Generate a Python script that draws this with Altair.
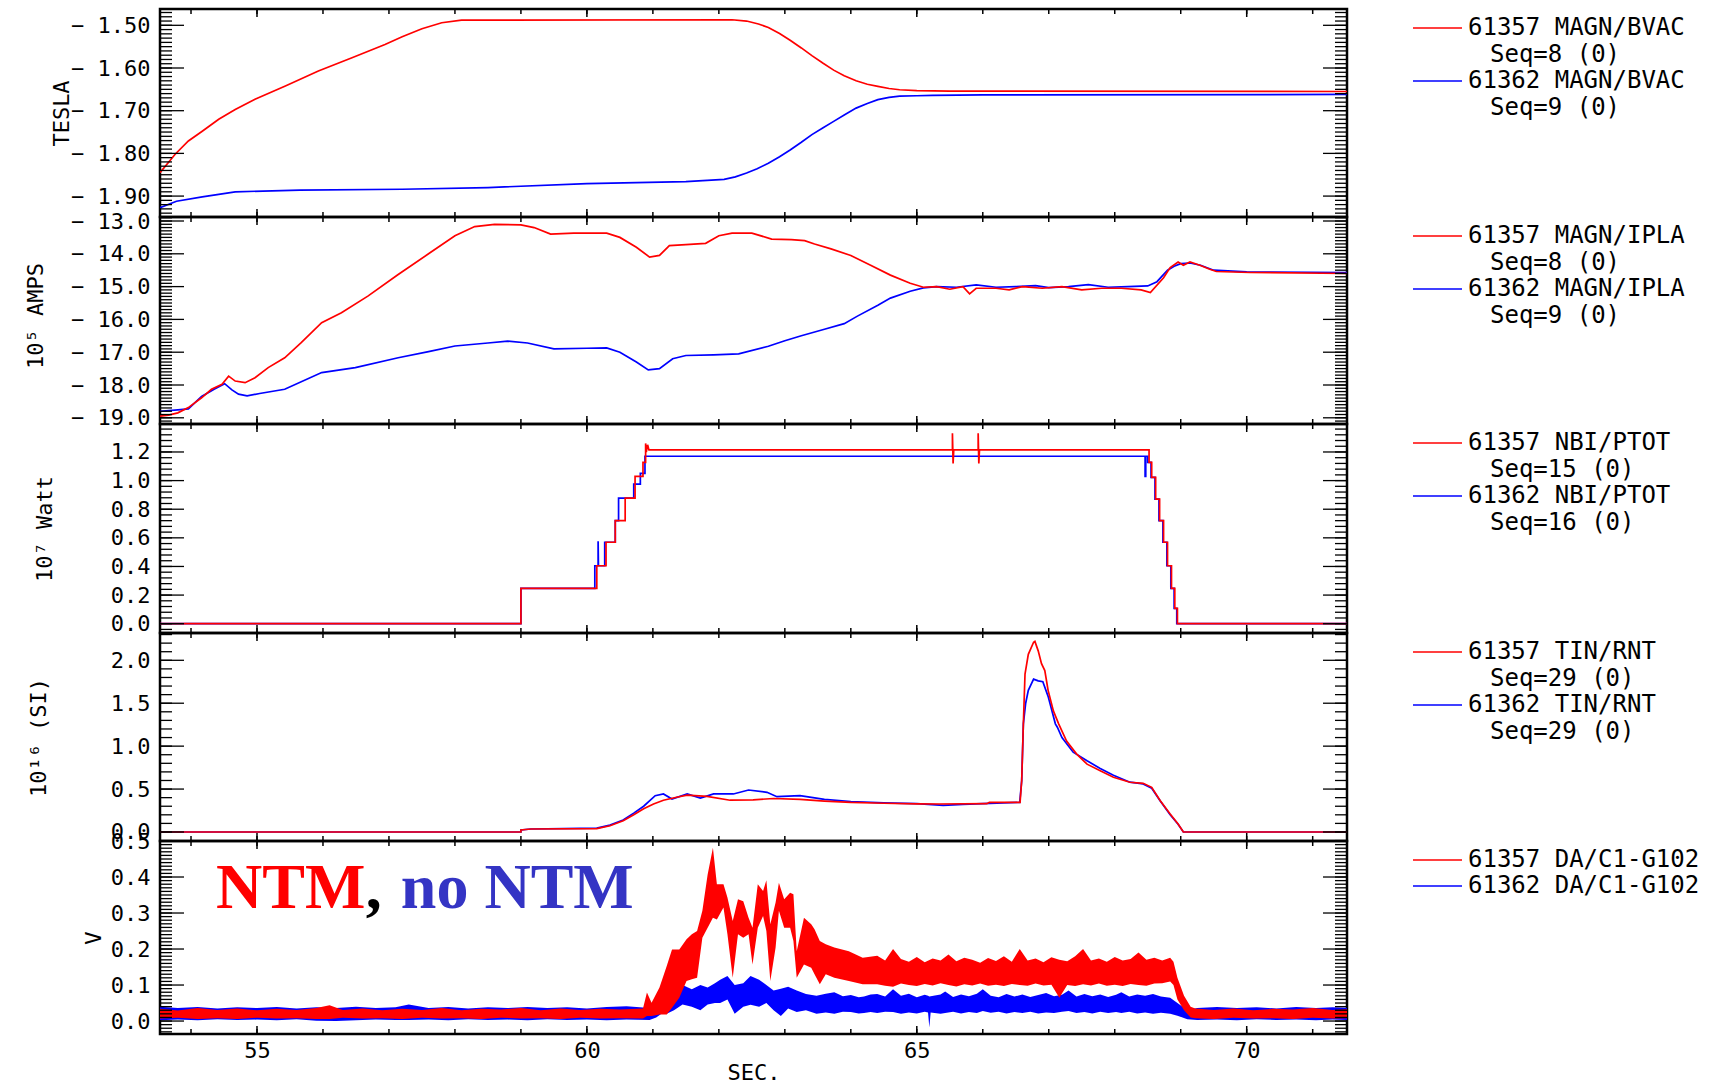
import math
import altair as alt
import pandas as pd

RED = "#ff0000"
BLUE = "#0000ff"
NAVY_TEXT = "#3434c4"
MONO = "DejaVu Sans Mono"

TIME_DOMAIN = [53.53, 71.52]
TIME_LABELS = [55, 60, 65, 70]
TIME_MINOR = list(range(54, 72))

# ---------------- MAGN/BVAC  (t [s], field [T]) ----------------
bvac_61357 = [(53.53, -1.845), (53.76, -1.802), (53.96, -1.771), (54.17, -1.748), (54.42, -1.720),
              (54.67, -1.697), (54.97, -1.673), (55.43, -1.642), (55.93, -1.607), (56.44, -1.576),
              (56.94, -1.545), (57.20, -1.527), (57.50, -1.508), (57.80, -1.494), (58.10, -1.488),
              (62.20, -1.487), (62.42, -1.490), (62.60, -1.497), (62.75, -1.505), (62.92, -1.519),
              (63.08, -1.535), (63.25, -1.553), (63.41, -1.571), (63.58, -1.589), (63.74, -1.605),
              (63.90, -1.618), (64.08, -1.630), (64.25, -1.638), (64.41, -1.643), (64.58, -1.648),
              (64.74, -1.651), (65.00, -1.653), (65.50, -1.654), (71.52, -1.655)]
bvac_61362 = [(53.53, -1.927), (53.78, -1.912), (54.17, -1.902), (54.42, -1.896), (54.67, -1.890),
              (55.65, -1.886), (57.20, -1.884), (58.50, -1.880), (60.00, -1.871), (61.50, -1.866),
              (62.08, -1.861), (62.25, -1.855), (62.42, -1.846), (62.58, -1.836), (62.75, -1.823),
              (62.92, -1.808), (63.08, -1.792), (63.25, -1.774), (63.41, -1.756), (63.58, -1.740),
              (63.74, -1.725), (63.90, -1.710), (64.08, -1.694), (64.25, -1.683), (64.41, -1.674),
              (64.58, -1.669), (64.74, -1.666), (65.00, -1.665), (65.24, -1.664), (66.00, -1.663),
              (71.52, -1.662)]

# ---------------- MAGN/IPLA  (t [s], current [1e5 A]) ----------------
ipla_61357 = [(53.53, -18.95), (53.66, -18.92), (53.80, -18.85), (53.96, -18.69), (54.16, -18.39),
              (54.31, -18.13), (54.47, -17.98), (54.57, -17.73), (54.67, -17.88), (54.82, -17.93),
              (54.97, -17.78), (55.17, -17.47), (55.42, -17.17), (55.67, -16.71), (55.98, -16.10),
              (56.28, -15.80), (56.68, -15.29), (57.14, -14.63), (57.60, -14.00), (58.00, -13.45),
              (58.30, -13.17), (58.60, -13.10), (59.00, -13.12), (59.20, -13.20), (59.45, -13.40),
              (59.80, -13.37), (60.30, -13.37), (60.50, -13.50), (60.75, -13.80), (60.95, -14.10),
              (61.10, -14.05), (61.25, -13.75), (61.50, -13.72), (61.80, -13.68), (62.00, -13.45),
              (62.20, -13.37), (62.50, -13.37), (62.80, -13.55), (63.10, -13.57), (63.30, -13.60),
              (63.45, -13.70), (63.70, -13.85), (64.00, -14.05), (64.30, -14.35), (64.60, -14.65),
              (64.90, -14.90), (65.10, -15.02), (65.30, -15.00), (65.50, -15.08), (65.70, -15.00),
              (65.80, -15.22), (65.90, -15.05), (66.20, -15.05), (66.40, -15.10), (66.60, -15.00),
              (66.90, -15.05), (67.20, -15.00), (67.50, -15.10), (67.80, -15.05), (68.10, -15.05),
              (68.40, -15.10), (68.54, -15.18), (68.74, -14.73), (68.84, -14.42), (68.96, -14.25),
              (69.04, -14.35), (69.14, -14.25), (69.29, -14.35), (69.44, -14.47), (69.54, -14.54),
              (70.05, -14.57), (71.52, -14.60)]
ipla_61362 = [(53.53, -18.80), (53.80, -18.76), (53.96, -18.73), (54.16, -18.35), (54.35, -18.13),
              (54.51, -17.96), (54.62, -18.15), (54.72, -18.28), (54.85, -18.33), (55.04, -18.26),
              (55.42, -18.13), (55.98, -17.62), (56.49, -17.47), (57.14, -17.17), (57.60, -16.98),
              (58.00, -16.81), (58.50, -16.72), (58.80, -16.66), (59.10, -16.72), (59.50, -16.90),
              (60.00, -16.88), (60.30, -16.87), (60.50, -17.00), (60.75, -17.30), (60.93, -17.54),
              (61.10, -17.50), (61.30, -17.20), (61.50, -17.10), (61.92, -17.08), (62.30, -17.05),
              (62.75, -16.82), (63.00, -16.65), (63.25, -16.50), (63.60, -16.30), (63.90, -16.13),
              (64.10, -15.90), (64.41, -15.57), (64.60, -15.35), (64.90, -15.14), (65.10, -15.04),
              (65.30, -15.00), (65.60, -15.02), (65.90, -14.95), (66.20, -15.02), (66.50, -15.00),
              (66.80, -14.97), (67.00, -15.03), (67.30, -15.00), (67.60, -14.94), (67.90, -15.02),
              (68.20, -15.00), (68.50, -14.98), (68.64, -14.85), (68.80, -14.50), (68.90, -14.38),
              (69.00, -14.30), (69.14, -14.28), (69.30, -14.35), (69.50, -14.50), (70.00, -14.55),
              (71.52, -14.57)]

# ---------------- NBI/PTOT  (t [s], power [1e7 W]) ----------------
ptot_61357 = [(53.53, 0.0), (59.00, 0.0), (59.00, 0.247), (60.15, 0.247), (60.15, 0.405), (60.29, 0.405),
              (60.29, 0.569), (60.43, 0.569), (60.43, 0.720), (60.58, 0.720), (60.58, 0.878), (60.73, 0.878),
              (60.73, 1.030), (60.85, 1.030), (60.85, 1.128), (60.89, 1.128), (60.89, 1.260), (60.90, 1.200),
              (60.92, 1.250), (60.94, 1.214), (65.54, 1.214), (65.54, 1.330), (65.55, 1.120), (65.56, 1.214),
              (65.93, 1.214), (65.93, 1.330), (65.94, 1.120), (65.95, 1.214), (68.52, 1.214), (68.52, 1.128),
              (68.56, 1.128), (68.56, 1.023), (68.62, 1.023), (68.62, 0.871), (68.68, 0.871), (68.68, 0.720),
              (68.74, 0.720), (68.74, 0.569), (68.80, 0.569), (68.80, 0.405), (68.86, 0.405), (68.86, 0.247),
              (68.91, 0.247), (68.91, 0.107), (68.95, 0.107), (68.95, 0.0), (71.52, 0.0)]
ptot_61362 = [(53.53, 0.0), (59.00, 0.0), (59.00, 0.247), (60.12, 0.247), (60.12, 0.405), (60.17, 0.405),
              (60.17, 0.576), (60.175, 0.405), (60.27, 0.405), (60.27, 0.569), (60.43, 0.569), (60.43, 0.720),
              (60.48, 0.720), (60.48, 0.878), (60.71, 0.878), (60.71, 0.976), (60.81, 0.976), (60.81, 1.050),
              (60.88, 1.050), (60.88, 1.170), (68.46, 1.170), (68.46, 1.030), (68.47, 1.030), (68.47, 1.170),
              (68.50, 1.170), (68.50, 1.128), (68.55, 1.128), (68.55, 1.023), (68.61, 1.023), (68.61, 0.871),
              (68.67, 0.871), (68.67, 0.720), (68.73, 0.720), (68.73, 0.569), (68.79, 0.569), (68.79, 0.405),
              (68.85, 0.405), (68.85, 0.247), (68.90, 0.247), (68.90, 0.107), (68.94, 0.107), (68.94, 0.0),
              (71.52, 0.0)]

# ---------------- TIN/RNT  (t [s], neutron rate [1e16 /s]) ----------------
rnt_61357 = [(53.53, 0.0), (59.00, 0.0), (59.00, 0.023), (59.15, 0.035), (60.15, 0.040), (60.35, 0.073),
             (60.55, 0.130), (60.71, 0.200), (60.86, 0.270), (61.01, 0.326), (61.16, 0.370), (61.36, 0.405),
             (61.52, 0.430), (61.82, 0.415), (62.17, 0.370), (62.52, 0.375), (62.83, 0.390), (63.23, 0.380),
             (63.60, 0.360), (64.00, 0.345), (64.50, 0.335), (65.00, 0.328), (65.35, 0.326), (66.06, 0.330),
             (66.10, 0.345), (66.565, 0.345), (66.59, 0.600), (66.615, 1.260), (66.64, 1.840), (66.69, 2.070),
             (66.77, 2.210), (66.79, 2.220), (66.84, 2.110), (66.89, 1.960), (66.94, 1.880), (66.99, 1.650),
             (67.07, 1.410), (67.15, 1.260), (67.27, 1.060), (67.42, 0.910), (67.58, 0.790), (67.78, 0.714),
             (67.98, 0.637), (68.23, 0.579), (68.43, 0.567), (68.56, 0.520), (68.69, 0.365), (68.84, 0.210),
             (68.96, 0.093), (69.04, 0.0), (71.52, 0.0)]
rnt_61362 = [(53.53, 0.0), (59.00, 0.0), (59.00, 0.023), (59.15, 0.035), (60.15, 0.045), (60.35, 0.080),
             (60.55, 0.140), (60.71, 0.220), (60.86, 0.300), (61.035, 0.423), (61.16, 0.443), (61.29, 0.384),
             (61.52, 0.443), (61.72, 0.396), (61.92, 0.443), (62.22, 0.443), (62.45, 0.489), (62.73, 0.462),
             (62.88, 0.411), (63.23, 0.423), (63.60, 0.380), (64.00, 0.355), (64.50, 0.340), (65.00, 0.330),
             (65.40, 0.310), (65.70, 0.322), (66.00, 0.330), (66.56, 0.345), (66.59, 0.600), (66.615, 1.260),
             (66.65, 1.500), (66.69, 1.650), (66.77, 1.780), (66.84, 1.760), (66.91, 1.750), (66.99, 1.580),
             (67.10, 1.260), (67.13, 1.220), (67.20, 1.100), (67.37, 0.930), (67.58, 0.830), (67.78, 0.740),
             (67.98, 0.660), (68.23, 0.580), (68.43, 0.560), (68.56, 0.510), (68.69, 0.360), (68.84, 0.200),
             (68.96, 0.090), (69.04, 0.0), (71.52, 0.0)]

# ---------------- DA/C1-G102  (t [s], low / high envelope of the signal [V]) ----------------
g102_61357 = [(53.53, 0.007, 0.034), (53.8, 0.009, 0.029), (54.1, 0.006, 0.036), (54.4, 0.008, 0.031),
              (54.7, 0.006, 0.035), (55.0, 0.009, 0.030), (55.3, 0.007, 0.034), (55.6, 0.008, 0.031),
              (55.9, 0.006, 0.036), (56.1, 0.006, 0.044), (56.3, 0.009, 0.031), (56.6, 0.007, 0.035),
              (56.9, 0.008, 0.030), (57.2, 0.006, 0.034), (57.5, 0.009, 0.031), (57.8, 0.007, 0.036),
              (58.1, 0.008, 0.030), (58.4, 0.006, 0.034), (58.7, 0.009, 0.032), (59.0, 0.007, 0.036),
              (59.3, 0.008, 0.030), (59.6, 0.006, 0.035), (59.9, 0.009, 0.031), (60.2, 0.007, 0.034),
              (60.5, 0.008, 0.032), (60.85, 0.007, 0.035),
              (60.91, 0.014, 0.079), (60.98, 0.014, 0.051), (61.10, 0.018, 0.093), (61.21, 0.018, 0.153),
              (61.29, 0.037, 0.199), (61.40, 0.065, 0.199), (61.51, 0.111, 0.227), (61.59, 0.116, 0.241),
              (61.67, 0.120, 0.250), (61.75, 0.231, 0.306), (61.83, 0.259, 0.407), (61.91, 0.287, 0.481),
              (61.97, 0.282, 0.380), (62.07, 0.315, 0.380), (62.13, 0.241, 0.343), (62.21, 0.120, 0.278),
              (62.29, 0.241, 0.338), (62.37, 0.231, 0.333), (62.45, 0.241, 0.287), (62.51, 0.157, 0.259),
              (62.59, 0.259, 0.380), (62.67, 0.292, 0.361), (62.72, 0.250, 0.391), (62.78, 0.111, 0.269),
              (62.86, 0.204, 0.329), (62.91, 0.306, 0.384), (62.99, 0.259, 0.338), (63.08, 0.259, 0.356),
              (63.13, 0.222, 0.352), (63.18, 0.120, 0.194), (63.29, 0.157, 0.287), (63.40, 0.148, 0.269),
              (63.45, 0.130, 0.255), (63.53, 0.102, 0.222), (63.62, 0.130, 0.213), (63.75, 0.120, 0.204),
              (63.97, 0.111, 0.194), (64.18, 0.102, 0.176),
              (64.40, 0.102, 0.181), (64.52, 0.098, 0.168), (64.64, 0.095, 0.200), (64.76, 0.104, 0.172),
              (64.88, 0.100, 0.165), (65.00, 0.097, 0.178), (65.12, 0.103, 0.163), (65.24, 0.099, 0.174),
              (65.36, 0.105, 0.168), (65.48, 0.100, 0.185), (65.60, 0.096, 0.166), (65.72, 0.102, 0.176),
              (65.84, 0.099, 0.170), (65.96, 0.104, 0.162), (66.08, 0.098, 0.175), (66.20, 0.101, 0.167),
              (66.32, 0.097, 0.180), (66.44, 0.103, 0.165), (66.56, 0.100, 0.200), (66.68, 0.098, 0.168),
              (66.80, 0.104, 0.174), (66.92, 0.099, 0.163), (67.04, 0.101, 0.177), (67.16, 0.065, 0.170),
              (67.28, 0.100, 0.166), (67.40, 0.097, 0.180), (67.52, 0.102, 0.200), (67.64, 0.099, 0.168),
              (67.76, 0.104, 0.174), (67.88, 0.098, 0.165), (68.00, 0.101, 0.178), (68.12, 0.097, 0.168),
              (68.24, 0.103, 0.172), (68.36, 0.100, 0.190), (68.48, 0.098, 0.170), (68.60, 0.104, 0.176),
              (68.72, 0.105, 0.168), (68.84, 0.110, 0.176), (68.89, 0.100, 0.165),
              (68.95, 0.060, 0.120), (69.05, 0.030, 0.070), (69.15, 0.010, 0.040), (69.22, 0.008, 0.035),
              (69.5, 0.006, 0.031), (69.8, 0.009, 0.035), (70.1, 0.007, 0.030), (70.4, 0.008, 0.034),
              (70.7, 0.006, 0.032), (71.0, 0.009, 0.036), (71.3, 0.007, 0.031), (71.52, 0.008, 0.033)]
g102_61362 = [(53.53, 0.002, 0.040), (53.8, 0.004, 0.036), (54.1, 0.002, 0.039), (54.4, 0.005, 0.035),
              (54.7, 0.003, 0.038), (55.0, 0.004, 0.036), (55.3, 0.002, 0.039), (55.6, 0.005, 0.035),
              (55.9, 0.001, 0.038), (56.2, 0.000, 0.036), (56.5, 0.002, 0.040), (56.8, 0.004, 0.036),
              (57.1, 0.003, 0.038), (57.3, 0.003, 0.046), (57.6, 0.004, 0.036), (57.9, 0.002, 0.039),
              (58.2, 0.005, 0.035), (58.5, 0.003, 0.038), (58.8, 0.004, 0.036), (59.1, 0.002, 0.039),
              (59.4, 0.005, 0.036), (59.7, 0.003, 0.038), (60.0, 0.004, 0.035), (60.3, 0.002, 0.039),
              (60.6, 0.004, 0.041), (60.95, 0.003, 0.036),
              (61.05, 0.010, 0.060), (61.13, 0.020, 0.074), (61.21, 0.020, 0.080), (61.32, 0.030, 0.070),
              (61.45, 0.046, 0.100), (61.59, 0.040, 0.088), (61.72, 0.030, 0.100), (61.83, 0.046, 0.093),
              (61.94, 0.050, 0.105), (62.02, 0.050, 0.115), (62.13, 0.060, 0.125), (62.24, 0.020, 0.100),
              (62.37, 0.040, 0.105), (62.48, 0.045, 0.125), (62.61, 0.040, 0.115), (62.72, 0.050, 0.100),
              (62.83, 0.030, 0.085), (62.94, 0.014, 0.090), (63.05, 0.035, 0.095), (63.18, 0.025, 0.085),
              (63.32, 0.030, 0.075), (63.48, 0.020, 0.070), (63.62, 0.024, 0.076), (63.75, 0.020, 0.080),
              (63.88, 0.026, 0.069), (64.00, 0.025, 0.072), (64.12, 0.021, 0.066), (64.20, 0.022, 0.068),
              (64.30, 0.025, 0.074),
              (64.40, 0.022, 0.075), (64.52, 0.026, 0.068), (64.64, 0.025, 0.088), (64.76, 0.020, 0.070),
              (64.88, 0.024, 0.076), (65.00, 0.021, 0.066), (65.12, 0.026, 0.073), (65.17, 0.024, 0.070),
              (65.19, -0.018, 0.068), (65.21, 0.024, 0.069), (65.36, 0.020, 0.074), (65.43, 0.022, 0.082),
              (65.55, 0.026, 0.067), (65.67, 0.021, 0.074), (65.79, 0.025, 0.069), (65.91, 0.022, 0.076),
              (66.00, 0.028, 0.088), (66.12, 0.023, 0.070), (66.24, 0.026, 0.066), (66.36, 0.021, 0.075),
              (66.48, 0.025, 0.068), (66.60, 0.022, 0.074), (66.72, 0.026, 0.067), (66.84, 0.021, 0.072),
              (66.96, 0.024, 0.078), (67.08, 0.022, 0.069), (67.20, 0.026, 0.073), (67.30, 0.028, 0.085),
              (67.42, 0.022, 0.068), (67.54, 0.025, 0.075), (67.66, 0.021, 0.069), (67.78, 0.026, 0.074),
              (67.90, 0.022, 0.067), (68.02, 0.025, 0.073), (68.10, 0.022, 0.080), (68.22, 0.026, 0.068),
              (68.34, 0.021, 0.074), (68.46, 0.024, 0.070), (68.58, 0.020, 0.075), (68.70, 0.023, 0.068),
              (68.84, 0.020, 0.065),
              (68.95, 0.015, 0.050), (69.10, 0.005, 0.030), (69.25, 0.003, 0.036), (69.55, 0.004, 0.039),
              (69.85, 0.002, 0.036), (70.15, 0.005, 0.038), (70.45, 0.003, 0.035), (70.75, 0.004, 0.039),
              (71.05, 0.002, 0.036), (71.30, 0.004, 0.038), (71.52, 0.003, 0.037)]

# ---------------- panel settings ----------------
PANELS = [
    dict(height=208, domain=[-1.949, -1.4618], major=[-1.9, -1.8, -1.7, -1.6, -1.5], minor=0.01,
         fmt=".2f", title="TESLA", title_x=-99, title_dy=0,
         legend=["61357 MAGN/BVAC", "Seq=8 (0)", "61362 MAGN/BVAC", "Seq=9 (0)"]),
    dict(height=207, domain=[-19.189, -12.878], major=[-19, -18, -17, -16, -15, -14, -13], minor=0.1,
         fmt=".1f", title="10⁵   AMPS", title_x=-125, title_dy=-5,
         legend=["61357 MAGN/IPLA", "Seq=8 (0)", "61362 MAGN/IPLA", "Seq=9 (0)"]),
    dict(height=209, domain=[-0.065, 1.3955], major=[0.0, 0.2, 0.4, 0.6, 0.8, 1.0, 1.2], minor=0.04,
         fmt=".1f", title="10⁷   Watt", title_x=-116, title_dy=0,
         legend=["61357 NBI/PTOT", "Seq=15 (0)", "61362 NBI/PTOT", "Seq=16 (0)"]),
    dict(height=208, domain=[-0.105, 2.318], major=[0.0, 0.5, 1.0, 1.5, 2.0], minor=0.1,
         fmt=".1f", title="10¹⁶   (SI)", title_x=-122, title_dy=0,
         legend=["61357 TIN/RNT", "Seq=29 (0)", "61362 TIN/RNT", "Seq=29 (0)"]),
    dict(height=193, domain=[-0.036, 0.5], major=[0.0, 0.1, 0.2, 0.3, 0.4, 0.5], minor=0.01,
         fmt=".1f", title="V", title_x=-67, title_dy=0,
         legend=["61357 DA/C1-G102", "61362 DA/C1-G102"]),
]

W = 1187
MAJOR_LEN, MINOR_LEN = 24, 12
XMAJOR_LEN, XMINOR_LEN = 8, 5
LEG_SWATCH = (1253, 1302)
LEG_TEXT_X = (1308, 1330)
LEG_ROWS = [19, 46, 72, 99]
# tick labels are drawn with a thin gap after the minus sign
SPACED_MINUS = "replace(datum.label, '\u2212', '\u2212\u2009')"


def minor_values(domain, step):
    lo, hi = min(domain), max(domain)
    k0, k1 = math.ceil(lo / step - 1e-9), math.floor(hi / step + 1e-9)
    return [round(k * step, 4) for k in range(k0, k1 + 1)]


def build_panel(cfg, series, bands=None, annotate=False, bottom=False):
    H = cfg["height"]
    xs = alt.Scale(domain=TIME_DOMAIN, nice=False, zero=False)
    ys = alt.Scale(domain=cfg["domain"], nice=False, zero=False)

    y_axis = alt.Axis(values=cfg["major"], tickCount=len(cfg["major"]) + 10, format=cfg["fmt"],
                      labelExpr=SPACED_MINUS, ticks=False, domain=False, grid=False,
                      labelOverlap=False, labelFlush=False, labelPadding=10,
                      title=cfg["title"], titleAngle=270, titleX=cfg["title_x"],
                      titleY=H / 2 + cfg["title_dy"], titleAlign="center", titleBaseline="middle")
    if bottom:
        x_axis = alt.Axis(values=TIME_LABELS, tickCount=20, format="d", ticks=False, domain=False,
                          grid=False, labelOverlap=False, labelFlush=False, labelPadding=6,
                          title="SEC.", titleY=38, titleBaseline="middle")
    else:
        x_axis = None

    # only the first trace layer carries the axis definitions; the other layers share its scales
    def xenc(primary=False):
        if primary:
            return alt.X("t:Q", scale=xs, axis=x_axis)
        return alt.X("t:Q", scale=xs)

    def yenc(field="v", primary=False):
        if primary:
            return alt.Y(f"{field}:Q", scale=ys, axis=y_axis)
        return alt.Y(f"{field}:Q", scale=ys)

    layers = []
    first = True
    # traces: blue shot first, red drawn on top
    if bands is not None:
        for pts, color in bands:
            df = pd.DataFrame(pts, columns=["t", "lo", "hi"])
            layers.append(alt.Chart(df).mark_area(color=color, opacity=1, clip=True).encode(
                x=xenc(first), y=yenc("lo", first), y2=alt.Y2("hi:Q")))
            first = False
    else:
        for pts, color in series:
            df = pd.DataFrame(pts, columns=["t", "v"])
            df["i"] = range(len(df))
            layers.append(alt.Chart(df).mark_line(color=color, strokeWidth=1.7, clip=True).encode(
                x=xenc(first), y=yenc("v", first), order="i:Q"))
            first = False

    # inward tick marks on all four sides
    ymaj = pd.DataFrame({"v": cfg["major"]})
    ymin = pd.DataFrame({"v": minor_values(cfg["domain"], cfg["minor"])})
    for df, ln in ((ymin, MINOR_LEN), (ymaj, MAJOR_LEN)):
        layers.append(alt.Chart(df).mark_rule(color="black", strokeWidth=1.3).encode(
            y=yenc(), x=alt.value(0), x2=alt.value(ln)))
        layers.append(alt.Chart(df).mark_rule(color="black", strokeWidth=1.3).encode(
            y=yenc(), x=alt.value(W - ln), x2=alt.value(W)))
    xmaj = pd.DataFrame({"t": TIME_LABELS})
    xmin = pd.DataFrame({"t": TIME_MINOR})
    for df, ln in ((xmin, XMINOR_LEN), (xmaj, XMAJOR_LEN)):
        layers.append(alt.Chart(df).mark_rule(color="black", strokeWidth=1.5).encode(
            x=xenc(), y=alt.value(0), y2=alt.value(ln)))
        layers.append(alt.Chart(df).mark_rule(color="black", strokeWidth=1.5).encode(
            x=xenc(), y=alt.value(H - ln), y2=alt.value(H)))

    # legend block to the right of the panel
    labels = cfg["legend"]
    if len(labels) == 4:
        rows = [(LEG_ROWS[0], labels[0], RED), (LEG_ROWS[1], labels[1], None),
                (LEG_ROWS[2], labels[2], BLUE), (LEG_ROWS[3], labels[3], None)]
    else:
        rows = [(19, labels[0], RED), (45, labels[1], BLUE)]
    for ypix, text, color in rows:
        tx = LEG_TEXT_X[0] if color else LEG_TEXT_X[1]
        layers.append(alt.Chart(pd.DataFrame({"label": [text]})).mark_text(
            align="left", baseline="middle", font=MONO, fontSize=24, color="black").encode(
            x=alt.value(tx), y=alt.value(ypix), text="label:N"))
        if color:
            layers.append(alt.Chart(pd.DataFrame({"k": [0]})).mark_rule(color=color, strokeWidth=1.7).encode(
                x=alt.value(LEG_SWATCH[0]), x2=alt.value(LEG_SWATCH[1]), y=alt.value(ypix)))

    if annotate:
        parts = [(54.38, "NTM", RED), (56.65, ",", "black"), (57.18, "no NTM", NAVY_TEXT)]
        for t0, text, color in parts:
            df = pd.DataFrame({"t": [t0], "v": [0.314], "label": [text]})
            layers.append(alt.Chart(df).mark_text(
                align="left", baseline="alphabetic", font="Liberation Serif", fontSize=64,
                fontWeight="bold", color=color).encode(x=xenc(), y=yenc(), text="label:N"))

    return alt.layer(*layers).properties(width=W, height=H)


panels = [
    build_panel(PANELS[0], [(bvac_61362, BLUE), (bvac_61357, RED)]),
    build_panel(PANELS[1], [(ipla_61362, BLUE), (ipla_61357, RED)]),
    build_panel(PANELS[2], [(ptot_61362, BLUE), (ptot_61357, RED)]),
    build_panel(PANELS[3], [(rnt_61362, BLUE), (rnt_61357, RED)]),
    build_panel(PANELS[4], None, bands=[(g102_61362, BLUE), (g102_61357, RED)], annotate=True, bottom=True),
]

chart = (
    alt.vconcat(*panels, spacing=0, bounds="flush")
    .properties(padding={"left": 22, "top": 7, "right": 5, "bottom": 5}, background="white")
    .configure_view(stroke="black", strokeWidth=2.5)
    .configure_axis(labelFont=MONO, titleFont=MONO, labelFontSize=22, titleFontSize=22,
                    titleFontWeight="normal", labelColor="black", titleColor="black")
)

chart.save("out.html", embed_options={"renderer": "svg", "actions": False})
